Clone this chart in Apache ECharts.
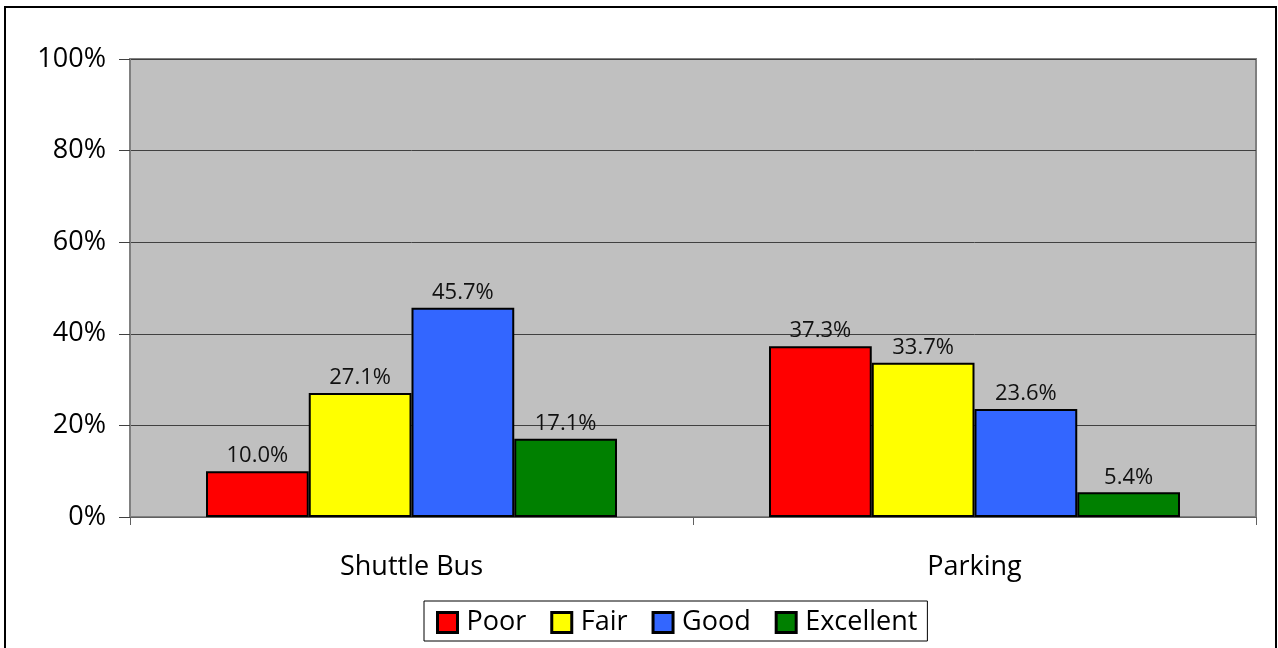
<!DOCTYPE html>
<html>
<head>
<meta charset="utf-8">
<script src="https://cdn.jsdelivr.net/npm/echarts@6/dist/echarts.min.js"></script>
<style>
html,body{margin:0;padding:0;background:#fff;}
#main{width:1278px;height:648px;}
</style>
</head>
<body>
<div id="main"></div>
<script>
// chart data
const categories = ['Shuttle Bus', 'Parking']
const seriesNames = ['Poor', 'Fair', 'Good', 'Excellent']
const seriesColors = ['#ff0000', '#ffff00', '#3366ff', '#008000']
const poorData = [10.0, 37.3]
const fairData = [27.1, 33.7]
const goodData = [45.7, 23.6]
const excellentData = [17.1, 5.4]
const yTicks = [0, 20, 40, 60, 80, 100]

const font = 'Open Sans'
const chart = echarts.init(document.getElementById('main'))

const allData = [poorData, fairData, goodData, excellentData]
const series = allData.map((data, i) => {
    return {
        name: seriesNames[i],
        type: 'bar',
        data: data,
        barGap: '0%',
        barCategoryGap: '27%',
        itemStyle: {
            color: seriesColors[i],
            borderColor: '#000',
            borderWidth: 2
        },
        label: {
            show: true,
            position: 'top',
            distance: 4,
            color: '#111',
            fontFamily: font,
            fontSize: 22,
            formatter: p => p.value.toFixed(1) + '%'
        }
    }
})

const option = {
    animation: false,
    graphic: [{
        type: 'rect',
        shape: {x: 5, y: 7, width: 1271, height: 660},
        style: {fill: 'none', stroke: '#000', lineWidth: 2},
        z: 100
    }],
    legend: {
        data: seriesNames,
        icon: 'rect',
        left: 424,
        top: 601,
        orient: 'horizontal',
        itemWidth: 20,
        itemHeight: 20,
        itemGap: 24,
        padding: [8, 10, 5, 12],
        borderColor: '#000',
        borderWidth: 1,
        itemStyle: {borderColor: '#000', borderWidth: 3},
        textStyle: {fontFamily: font, fontSize: 27, color: '#000', padding: [0, 0, 0, 4]}
    },
    grid: {
        left: 130,
        top: 59,
        right: 22,
        bottom: 131,
        show: true,
        backgroundColor: '#c0c0c0',
        borderColor: '#808080',
        borderWidth: 2
    },
    xAxis: {
        type: 'category',
        data: categories,
        axisLine: {lineStyle: {color: '#606060', width: 1}},
        axisTick: {show: true, length: 8, lineStyle: {color: '#606060'}},
        axisLabel: {margin: 37, fontFamily: font, fontSize: 27, color: '#000'}
    },
    yAxis: {
        type: 'value',
        min: yTicks[0],
        max: yTicks[yTicks.length - 1],
        interval: 20,
        axisLine: {show: true, lineStyle: {color: '#808080', width: 2}},
        axisTick: {show: true, length: 11, lineStyle: {color: '#404040'}},
        splitLine: {lineStyle: {color: '#404040', width: 1}},
        axisLabel: {margin: 24, fontFamily: font, fontSize: 27, color: '#000', formatter: '{value}%'}
    },
    series: series
}
chart.setOption(option)
</script>
</body>
</html>
